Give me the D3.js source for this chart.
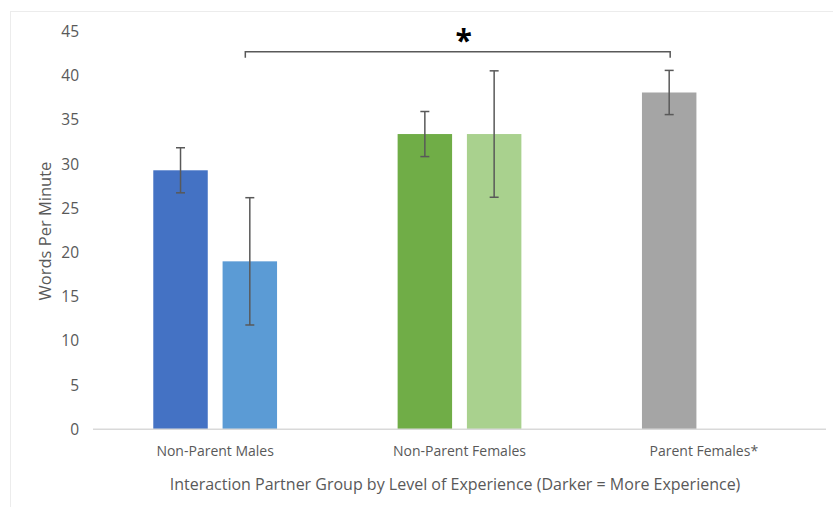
<!DOCTYPE html>
<html>
<head>
<meta charset="utf-8">
<script src="https://cdn.jsdelivr.net/npm/d3@7.9.0/dist/d3.min.js"></script>
<style>
  body { margin: 0; background: #fff; }
  text { font-family: "Open Sans", "Noto Sans", sans-serif; }
</style>
</head>
<body>
<svg id="chart" width="833" height="507"></svg>
<script>
const groups = ['Non-Parent Males', 'Non-Parent Females', 'Parent Females*'];
const levels = ['darker', 'lighter'];
// one entry per bar: group, level, mean, error (+/-)
const means = [29.3, 19.0, 33.4, 33.4, 38.1];
const errors = [2.55, 7.2, 2.55, 7.15, 2.5];
const barGroup = [0, 0, 1, 1, 2];
const barLevel = [0, 1, 0, 1, 0];
const colors = ['#4472C4', '#5B9BD5', '#70AD47', '#A9D18E', '#A5A5A5'];
const yTicks = [0, 5, 10, 15, 20, 25, 30, 35, 40, 45];
const sigFrom = 1, sigTo = 4, sigLevel = 42.7;

const bars = means.map((m, i) => ({
  group: groups[barGroup[i]], level: levels[barLevel[i]], mean: m, err: errors[i], color: colors[i]
}));

const svg = d3.select('#chart');

// chart frame
svg.append('rect')
  .attr('x', 10.5).attr('y', 11.5)
  .attr('width', 840).attr('height', 520)
  .attr('fill', 'none')
  .attr('stroke', '#ececec')
  .attr('stroke-width', 1);

const x0 = d3.scaleBand().domain(groups).range([93, 826]);
const x1 = d3.scaleBand().domain(levels).range([0, x0.bandwidth()])
  .paddingInner(0.214).paddingOuter(0.87);
const y = d3.scaleLinear().domain([0, 45]).range([429.3, 31.5]);

// y tick labels
svg.append('g')
  .selectAll('text')
  .data(yTicks)
  .join('text')
  .attr('x', 79)
  .attr('y', d => y(d))
  .attr('dy', '0.35em')
  .attr('text-anchor', 'end')
  .attr('font-size', '15.5px')
  .attr('fill', '#595959')
  .text(d => d);

// bars
svg.append('g')
  .selectAll('rect')
  .data(bars)
  .join('rect')
  .attr('x', d => x0(d.group) + x1(d.level))
  .attr('y', d => y(d.mean))
  .attr('width', x1.bandwidth())
  .attr('height', d => y(0) - y(d.mean))
  .attr('fill', d => d.color);

// baseline
svg.append('line')
  .attr('x1', 93).attr('x2', 826)
  .attr('y1', y(0)).attr('y2', y(0))
  .attr('stroke', '#d9d9d9')
  .attr('stroke-width', 1.5);

// error bars
const cx = d => x0(d.group) + x1(d.level) + x1.bandwidth() / 2;
const eb = svg.append('g')
  .attr('stroke', '#595959')
  .attr('stroke-width', 1.5)
  .selectAll('g')
  .data(bars)
  .join('g');
eb.append('line')
  .attr('x1', cx).attr('x2', cx)
  .attr('y1', d => y(d.mean + d.err))
  .attr('y2', d => y(d.mean - d.err));
eb.append('line')
  .attr('x1', d => cx(d) - 4.5).attr('x2', d => cx(d) + 4.5)
  .attr('y1', d => y(d.mean + d.err)).attr('y2', d => y(d.mean + d.err));
eb.append('line')
  .attr('x1', d => cx(d) - 4.5).attr('x2', d => cx(d) + 4.5)
  .attr('y1', d => y(d.mean - d.err)).attr('y2', d => y(d.mean - d.err));

// significance bracket
const bx1 = cx(bars[sigFrom]) - 4.5;
const bx2 = cx(bars[sigTo]) + 1;
const by = y(sigLevel);
svg.append('path')
  .attr('d', `M${bx1},${by + 6}V${by}H${bx2}V${by + 6}`)
  .attr('fill', 'none')
  .attr('stroke', '#595959')
  .attr('stroke-width', 1.5);
svg.append('text')
  .attr('x', (bx1 + bx2) / 2 + 6)
  .attr('y', by - 1)
  .attr('text-anchor', 'middle')
  .attr('font-size', '30px')
  .attr('font-weight', 'bold')
  .attr('fill', '#000')
  .text('*');

// category labels
svg.append('g')
  .selectAll('text')
  .data(groups)
  .join('text')
  .attr('x', d => x0(d) + x0.bandwidth() / 2)
  .attr('y', 456)
  .attr('text-anchor', 'middle')
  .attr('font-size', '14px')
  .attr('fill', '#595959')
  .text(d => d);

// axis titles
svg.append('text')
  .attr('x', 455)
  .attr('y', 490)
  .attr('text-anchor', 'middle')
  .attr('font-size', '16px')
  .attr('fill', '#595959')
  .text('Interaction Partner Group by Level of Experience (Darker = More Experience)');

svg.append('text')
  .attr('transform', 'rotate(-90)')
  .attr('x', -231)
  .attr('y', 51)
  .attr('text-anchor', 'middle')
  .attr('font-size', '16.5px')
  .attr('fill', '#595959')
  .text('Words Per Minute');
</script>
</body>
</html>
